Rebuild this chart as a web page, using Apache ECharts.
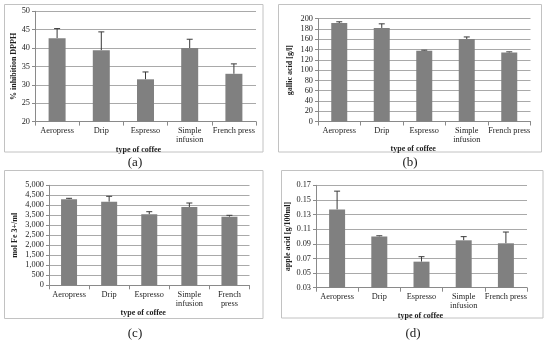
<!DOCTYPE html>
<html><head><meta charset="utf-8">
<script src="https://cdn.jsdelivr.net/npm/echarts@6/dist/echarts.min.js"></script>
<style>html,body{margin:0;padding:0;background:#fff}#c{width:550px;height:343px}</style>
</head><body><div id="c"></div>
<script>
// ---- data ----
const categories = ['Aeropress', 'Drip', 'Espresso', 'Simple\ninfusion', 'French press'];
const categoriesC = ['Aeropress', 'Drip', 'Espresso', 'Simple\ninfusion', 'French\npress'];

const dpphValues = [42.7, 39.4, 31.5, 40.0, 33.0];
const dpphErrors = [2.6, 5.0, 2.0, 2.4, 2.7];

const gallicValues = [191.5, 182, 137.5, 160.5, 134];
const gallicErrors = [2.5, 8, 1.2, 4, 1.5];

const feValues = [4300, 4180, 3550, 3915, 3430];
const feErrors = [50, 270, 130, 200, 70];

const appleValues = [0.137, 0.100, 0.0656, 0.0948, 0.0907];
const appleErrors = [0.025, 0.001, 0.0068, 0.005, 0.0154];

const panelCaptions = ['(a)', '(b)', '(c)', '(d)'];
const yNames = ['% inhibition DPPH', 'gallic acid [g/l]', 'mol Fe 3+/ml', 'apple acid [g/100ml]'];
const xName = 'type of coffee';

// ---- styling ----
const FONT = 'Liberation Serif';
const TXT = '#1e1e1e';
const BAR = '#808080';
const ERR = '#3a3a3a';
const GRIDC = '#a9a9a9';
const AXC = '#8a8a8a';

const grids = [
  {left: 35, top: 11.3, width: 221, height: 110.3},
  {left: 318, top: 18.7, width: 212.5, height: 102.8},
  {left: 49, top: 185.3, width: 200.5, height: 100},
  {left: 316, top: 185.3, width: 211, height: 102.4}
];
const yCfg = [
  {min: 20, max: 50, interval: 5, fmt: v => String(v), gap: 16},
  {min: 0, max: 200, interval: 20, fmt: v => String(v), gap: 24},
  {min: 0, max: 5000, interval: 500, fmt: v => String(v).replace(/\B(?=(\d{3})+(?!\d))/g, ','), gap: 30},
  {min: 0.03, max: 0.17, interval: 0.02, fmt: v => Number(v).toFixed(2), gap: 24}
];
const xNameGap = [19, 19, 21, 18];
const xNamePad = [[0, 14, 0, 0], [0, 22, 0, 0], [0, 12, 0, 0], [0, 2, 0, 0]];
const barW = [17, 16, 16, 16];
const vals = [dpphValues, gallicValues, feValues, appleValues];
const errs = [dpphErrors, gallicErrors, feErrors, appleErrors];
const cats = [categories, categories, categoriesC, categories];

const xAxes = [], yAxes = [], series = [];
for (let i = 0; i < 4; i++) {
  xAxes.push({
    type: 'category', gridIndex: i, data: cats[i],
    name: xName, nameLocation: 'middle', nameGap: xNameGap[i],
    nameTextStyle: {fontFamily: FONT, fontSize: 8, fontWeight: 'bold', color: TXT, padding: xNamePad[i]},
    axisLine: {lineStyle: {color: AXC, width: 1}},
    axisTick: {show: true, length: 4, alignWithLabel: false, lineStyle: {color: AXC}},
    axisLabel: {fontFamily: FONT, fontSize: 8.3, color: TXT, margin: 5, lineHeight: 9, interval: 0},
    splitLine: {show: false}
  });
  yAxes.push({
    type: 'value', gridIndex: i, min: yCfg[i].min, max: yCfg[i].max, interval: yCfg[i].interval,
    name: yNames[i], nameLocation: 'middle', nameRotate: 90, nameGap: yCfg[i].gap,
    nameTextStyle: {fontFamily: FONT, fontSize: 8, fontWeight: 'bold', color: TXT},
    axisLine: {show: true, lineStyle: {color: AXC, width: 1}},
    axisTick: {show: true, length: 3, lineStyle: {color: AXC}},
    axisLabel: {fontFamily: FONT, fontSize: 8.3, color: TXT, margin: 5, formatter: yCfg[i].fmt},
    splitLine: {show: true, lineStyle: {color: GRIDC, width: 1}}
  });
  series.push({
    type: 'bar', xAxisIndex: i, yAxisIndex: i, data: vals[i], barWidth: barW[i],
    itemStyle: {color: BAR}, silent: true, animation: false
  });
  const ev = errs[i];
  series.push({
    type: 'custom', xAxisIndex: i, yAxisIndex: i, animation: false, silent: true,
    data: vals[i].map((v, k) => [k, v, v + ev[k]]),
    encode: {x: 0, y: [1, 2]},
    renderItem: function (params, api) {
      const p0 = api.coord([api.value(0), api.value(1)]);
      const p1 = api.coord([api.value(0), api.value(2)]);
      const hw = 3;
      return {
        type: 'group',
        children: [
          {type: 'line', shape: {x1: p0[0], y1: p0[1], x2: p1[0], y2: p1[1]}, style: {stroke: ERR, lineWidth: 1}},
          {type: 'line', shape: {x1: p1[0] - hw, y1: p1[1], x2: p1[0] + hw, y2: p1[1]}, style: {stroke: ERR, lineWidth: 1}}
        ]
      };
    }
  });
}

const frames = [
  {x: 4.5, y: 4.5, w: 258.5, h: 147.5},
  {x: 278.5, y: 4.5, w: 263, h: 147.5},
  {x: 4.5, y: 170.5, w: 258.5, h: 148},
  {x: 281.5, y: 170.5, w: 261.5, h: 147.5}
];
const capPos = [[135, 163], [410, 163], [135, 334], [413, 334]];
const graphic = [];
frames.forEach(f => graphic.push({type: 'rect', shape: {x: f.x, y: f.y, width: f.w, height: f.h}, style: {fill: null, stroke: '#c2c2c2', lineWidth: 1}, z: 0}));
panelCaptions.forEach((t, i) => graphic.push({type: 'text', x: capPos[i][0], y: capPos[i][1], style: {text: t, font: '13px "' + FONT + '"', fill: '#1a1a1a', textAlign: 'center', textVerticalAlign: 'middle'}}));

const chart = echarts.init(document.getElementById('c'), null, {renderer: 'canvas'});
chart.setOption({
  animation: false,
  grid: grids.map(g => Object.assign({containLabel: false}, g)),
  xAxis: xAxes, yAxis: yAxes, series: series, graphic: graphic
});
</script></body></html>
